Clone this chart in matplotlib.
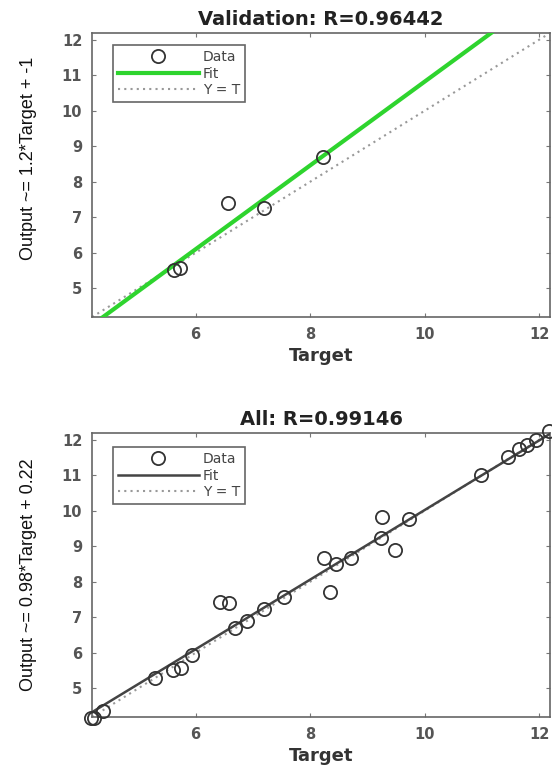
import numpy as np
import matplotlib.pyplot as plt

# validation set (target, output)
val_target = [5.63, 5.72, 6.56, 7.20, 8.22]
val_output = [5.52, 5.56, 7.40, 7.26, 8.69]
val_fit = (1.18, -0.98)   # slope, intercept of the drawn fit line
val_title = "Validation: R=0.96442"
val_ylabel = "Output ~= 1.2*Target + -1"

# all data
all_target = [4.17, 4.22, 4.38, 5.29, 5.60, 5.75, 5.94, 6.43, 6.58, 6.68,
              6.89, 7.20, 7.54, 8.25, 8.34, 8.46, 8.71, 9.23, 9.26, 9.48,
              9.72, 10.99, 11.45, 11.65, 11.79, 11.95, 12.17]
all_output = [4.15, 4.16, 4.36, 5.29, 5.51, 5.58, 5.94, 7.43, 7.40, 6.71,
              6.90, 7.24, 7.56, 8.68, 7.72, 8.49, 8.68, 9.23, 9.81, 8.89,
              9.76, 11.01, 11.51, 11.74, 11.86, 12.00, 12.24]
all_fit = (0.98, 0.22)
all_title = "All: R=0.99146"
all_ylabel = "Output ~= 0.98*Target + 0.22"

lims = (4.19, 12.19)
ticks = [6, 8, 10, 12]
yticks = [5, 6, 7, 8, 9, 10, 11, 12]

fig = plt.figure(figsize=(5.52, 7.71), dpi=100)
ax1 = fig.add_axes([0.1667, 0.5888, 0.8297, 0.3684])
ax2 = fig.add_axes([0.1667, 0.0700, 0.8297, 0.3684])


def panel(ax, t, o, fit, title, ylabel, fitcolor, fitlw, ylab_y, leg_top):
    xs = np.array(lims)
    ax.plot(t, o, 'o', ms=9.5, mfc='none', mec='#333333', mew=1.3,
            clip_on=False, zorder=4, label='Data')
    ax.plot(xs, fit[0] * xs + fit[1], color=fitcolor, lw=fitlw, label='Fit', zorder=3)
    ax.plot(xs, xs, color='#999999', lw=1.5, ls=(0, (1, 2)), label='Y = T', zorder=2)
    ax.set_xlim(lims)
    ax.set_ylim(lims)
    ax.set_xticks(ticks)
    ax.set_yticks(yticks)
    ax.tick_params(direction='in', top=True, right=True, length=3,
                   color='#777777', labelcolor='#555555', labelsize=10.5)
    ax.tick_params(axis='x', pad=7)
    ax.tick_params(axis='y', pad=7)
    for lab in ax.get_xticklabels() + ax.get_yticklabels():
        lab.set_fontweight('bold')
    for sp in ax.spines.values():
        sp.set_color('#666666')
        sp.set_linewidth(1.2)
    ax.set_title(title, fontsize=14, fontweight='bold', color='#222222', pad=6)
    ax.set_xlabel("Target", fontsize=13, fontweight='bold', color='#333333', labelpad=4)
    ax.set_ylabel(ylabel, fontsize=13, color='#111111', family='Liberation Sans')
    ax.yaxis.set_label_coords(-0.12, ylab_y)
    leg = ax.legend(loc='upper left', bbox_to_anchor=(0.046, leg_top),
                    borderaxespad=0, fontsize=10, handlelength=5.8,
                    handletextpad=0.3, labelspacing=0.2, numpoints=1,
                    fancybox=False, framealpha=1, borderpad=0.35)
    leg.get_frame().set_edgecolor('#666666')
    leg.get_frame().set_linewidth(1.2)
    for txt in leg.get_texts():
        txt.set_color('#444444')


panel(ax1, val_target, val_output, val_fit, val_title, val_ylabel,
      '#2ed42e', 3.0, 0.56, 0.958)
panel(ax2, all_target, all_output, all_fit, all_title, all_ylabel,
      '#444444', 1.8, 0.5, 0.951)

fig.savefig("out.png", dpi=100)
